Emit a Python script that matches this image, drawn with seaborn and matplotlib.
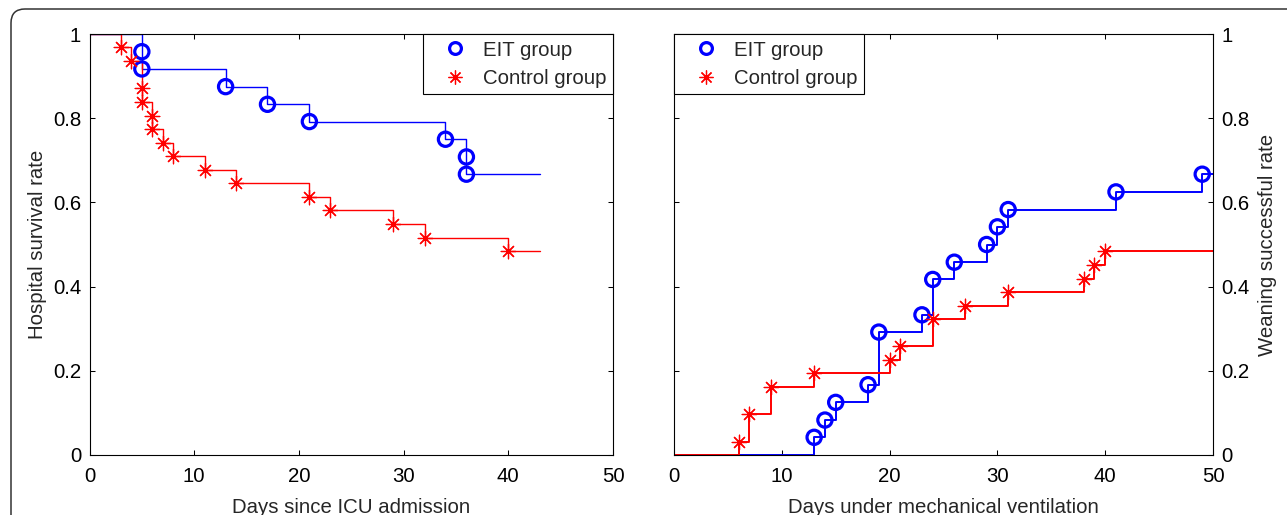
import numpy as np
import pandas as pd
import matplotlib
matplotlib.use("Agg")
import matplotlib.pyplot as plt
import seaborn as sns
from matplotlib.lines import Line2D
from matplotlib.patches import FancyBboxPatch
from matplotlib.transforms import IdentityTransform
from matplotlib.ticker import FuncFormatter

# ---------------- data ----------------
# Hospital survival (left panel): event times and survival level after each event
eit_surv_t = [5, 5, 13, 17, 21, 34, 36, 36]
eit_surv_s = [0.958, 0.917, 0.875, 0.833, 0.792, 0.750, 0.708, 0.667]
ctl_surv_t = [3, 4, 5, 5, 6, 6, 7, 8, 11, 14, 21, 23, 29, 32, 40]
ctl_surv_s = [0.968, 0.935, 0.871, 0.839, 0.806, 0.774, 0.742, 0.710,
              0.677, 0.645, 0.613, 0.581, 0.548, 0.516, 0.484]
surv_start = 1.0
surv_end_day = 43

# Weaning success (right panel)
eit_wean_t = [13, 14, 15, 18, 19, 23, 24, 26, 29, 30, 31, 41, 49]
eit_wean_s = [0.042, 0.083, 0.125, 0.167, 0.292, 0.333, 0.417, 0.458,
              0.500, 0.542, 0.583, 0.625, 0.667]
ctl_wean_t = [6, 7, 9, 13, 20, 21, 24, 27, 31, 38, 39, 40]
ctl_wean_s = [0.032, 0.097, 0.161, 0.194, 0.226, 0.258, 0.323, 0.355,
              0.387, 0.419, 0.452, 0.484]
wean_start = 0.0
wean_end_day = 50

group_labels = ["EIT group", "Control group"]
x_ticks = [0, 10, 20, 30, 40, 50]
y_ticks = [0, 0.2, 0.4, 0.6, 0.8, 1]
left_xlabel = "Days since ICU admission"
left_ylabel = "Hospital survival rate"
right_xlabel = "Days under mechanical ventilation"
right_ylabel = "Weaning successful rate"

# ---------------- style ----------------
sns.set_style("white")
plt.rcParams["font.family"] = ["Liberation Sans", "DejaVu Sans"]
plt.rcParams["axes.edgecolor"] = "black"
plt.rcParams["axes.linewidth"] = 0.8

BLUE = (0, 0, 1)
RED = (1, 0, 0)
FS = 14.7
STAR = (8, 2, 0)

W, H = 1287, 515
fig = plt.figure(figsize=(W / 100, H / 100), dpi=100)


def rect(x0, x1, y0, y1):
    return [x0 / W, 1 - y1 / H, (x1 - x0) / W, (y1 - y0) / H]


ax1 = fig.add_axes(rect(89.5, 613, 34, 455))
ax2 = fig.add_axes(rect(674, 1213, 34, 455))


def step_frame(t, s, start, end):
    return pd.DataFrame({"x": [0] + list(t) + [end],
                         "y": [start] + list(s) + [s[-1]]})


def draw(ax, et, es, ct, cs, start, end, lw):
    for t, s, col in [(et, es, BLUE), (ct, cs, RED)]:
        df = step_frame(t, s, start, end)
        sns.lineplot(data=df, x="x", y="y", ax=ax, estimator=None, sort=False,
                     drawstyle="steps-post", color=col, lw=lw, zorder=2)
    sns.scatterplot(x=et, y=es, ax=ax, marker="o", s=105, facecolor="none",
                    edgecolor=BLUE, linewidth=2.3, zorder=3, clip_on=False)
    sns.scatterplot(x=ct, y=cs, ax=ax, marker=STAR, s=110, color=RED,
                    linewidth=0.9, zorder=3, clip_on=False)


draw(ax1, eit_surv_t, eit_surv_s, ctl_surv_t, ctl_surv_s, surv_start, surv_end_day, 1.0)
draw(ax2, eit_wean_t, eit_wean_s, ctl_wean_t, ctl_wean_s, wean_start, wean_end_day, 1.4)

fmt = FuncFormatter(lambda v, p: f"{v:g}")
for ax in (ax1, ax2):
    ax.set_xlim(0, 50)
    ax.set_ylim(0, 1)
    ax.set_xticks(x_ticks)
    ax.set_yticks(y_ticks)
    ax.xaxis.set_major_formatter(fmt)
    ax.yaxis.set_major_formatter(fmt)
    ax.tick_params(direction="in", length=3.6, width=0.75, top=True, right=True,
                   bottom=True, left=True, labelsize=FS, colors="black")
    ax.tick_params(axis="x", pad=9)
    ax.tick_params(axis="y", pad=6)
    for sp in ax.spines.values():
        sp.set_visible(True)
        sp.set_color("black")
        sp.set_linewidth(0.8)

ax1.tick_params(labelleft=True, labelright=False)
ax2.tick_params(labelleft=False, labelright=True)
ax2.yaxis.set_label_position("right")

ax1.set_xlabel(left_xlabel, fontsize=FS, labelpad=8)
ax1.set_ylabel(left_ylabel, fontsize=FS, labelpad=4)
ax2.set_xlabel(right_xlabel, fontsize=FS, labelpad=8)
ax2.set_ylabel(right_ylabel, fontsize=FS, labelpad=6)

handles = [
    Line2D([], [], ls="none", marker="o", mfc="none", mec=BLUE, mew=2.3, ms=8.5),
    Line2D([], [], ls="none", marker=STAR, color=RED, mew=0.9, ms=10),
]
leg_kw = dict(fontsize=FS, frameon=True, fancybox=False, edgecolor="black",
              borderaxespad=0, borderpad=0.32, handlelength=2.5, handletextpad=0.1,
              labelspacing=0.45)
l1 = ax1.legend(handles, group_labels, loc="upper right", **leg_kw)
l2 = ax2.legend(handles, group_labels, loc="upper left", **leg_kw)
for l in (l1, l2):
    l.get_frame().set_linewidth(0.8)
    l.get_frame().set_alpha(1)

# rounded outer frame of the figure
frame = FancyBboxPatch((11, -40), 1340, (H - 9) + 40,
                       boxstyle="round,pad=0,rounding_size=14",
                       transform=IdentityTransform(), fill=False,
                       edgecolor="#333333", linewidth=1.1)
fig.patches.append(frame)

fig.savefig("out.png", dpi=100)
